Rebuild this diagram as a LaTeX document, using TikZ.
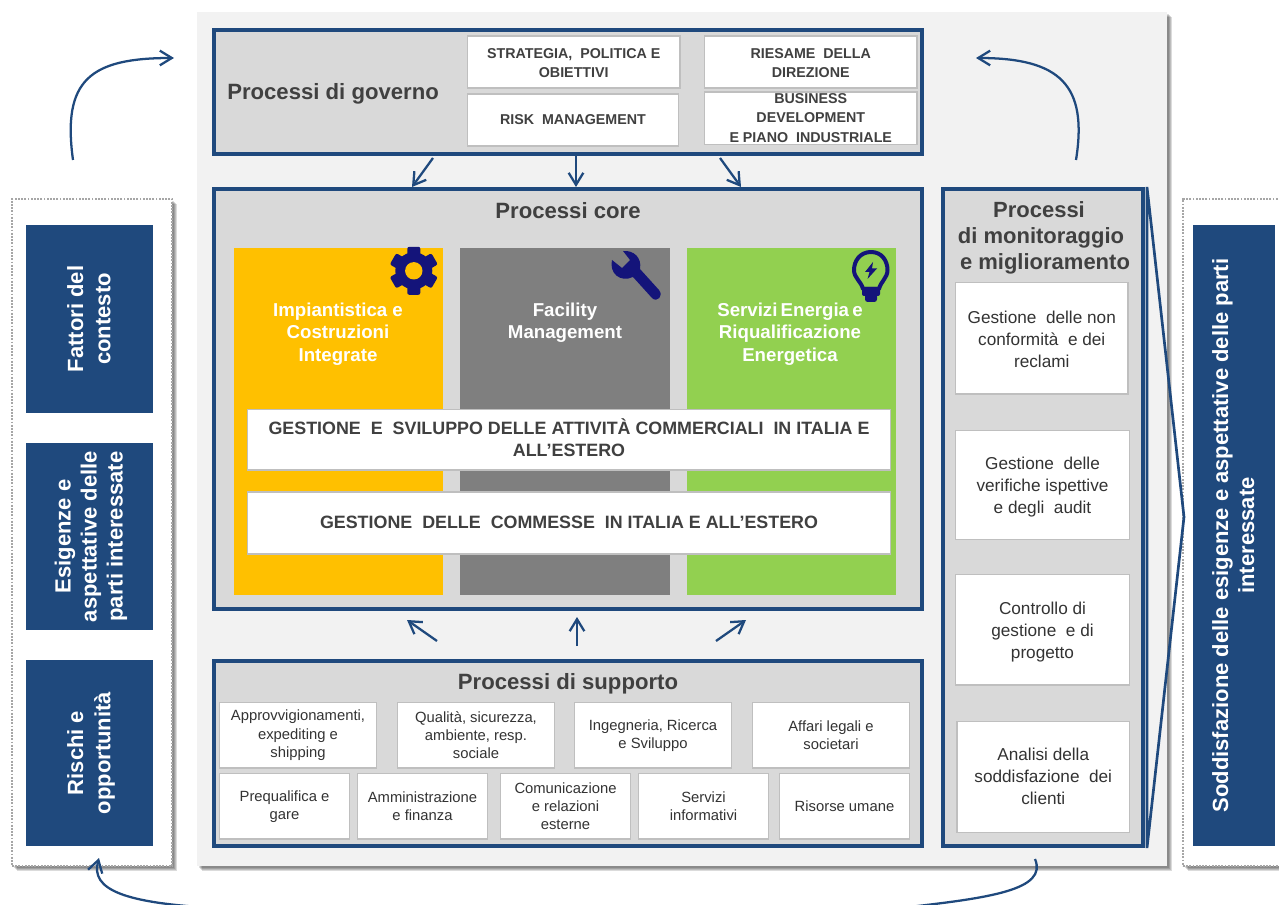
\documentclass[tikz,border=0pt]{standalone}
\usepackage{fontspec}
\setmainfont{Liberation Sans}
\usetikzlibrary{arrows.meta}
\definecolor{navyblue}{HTML}{1F497D}
\definecolor{icon}{HTML}{14147A}
\definecolor{panel}{HTML}{F2F2F2}
\definecolor{frameg}{HTML}{D9D9D9}
\definecolor{textg}{HTML}{404040}
\definecolor{edgeg}{HTML}{BFBFBF}
\definecolor{colyellow}{HTML}{FFC000}
\definecolor{colgrey}{HTML}{7F7F7F}
\definecolor{colgreen}{HTML}{92D050}
\newcommand{\fsz}[2]{\fontsize{#1}{#2}\selectfont}
\newcommand{\bx}[7]{\node[#2,inner sep=0pt,outer sep=0pt,minimum width={(#5-#3)*0.75pt},minimum height={(#6-#4)*0.75pt}] (#1) at ({(#3+#5)/2},{(#4+#6)/2}) {#7};}
\newcommand{\rot}[1]{\rotatebox{90}{\raisebox{-1.5pt}[\height][\depth]{\begin{tabular}{@{}c@{}}#1\end{tabular}}}}
\newcommand{\lift}[2]{\raisebox{#1}[\height][\depth]{\begin{tabular}{@{}c@{}}#2\end{tabular}}}
\tikzset{
 x=0.75pt,y=-0.75pt,
 panelbox/.style={fill=panel},
 dotbox/.style={fill=white,draw=black!35,line width=1.4pt,densely dotted},
 bluebox/.style={fill=navyblue,text=white,font=\bfseries\fsz{16.5}{19.5},align=center},
 frame/.style={fill=frameg,draw=navyblue,line width=3pt},
 whitebox/.style={fill=white,draw=edgeg,line width=0.9pt,text=black,align=center},
 govbox/.style={whitebox,font=\bfseries\fsz{10.7}{14.4},text=textg},
 supbox/.style={whitebox,font=\fsz{11.1}{13.6},text=textg!80!black},
 monbox/.style={whitebox,font=\fsz{12.9}{16.5},text=textg!80!black},
 bandbox/.style={whitebox,font=\bfseries\fsz{13.4}{17},text=textg},
 coltitle/.style={text=white,font=\bfseries\fsz{14}{16.7},align=center,inner sep=0pt},
 headtext/.style={text=textg,font=\bfseries\fsz{16.6}{20},align=center,inner sep=0pt},
 flow/.style={draw=navyblue,line width=1.7pt,-{Straight Barb[length=9pt,width=11pt,line width=1.7pt]}},
 shadowlayer/.style={fill=black,opacity=0.14},
}
\begin{document}
\begin{tikzpicture}
\clip (0,0) rectangle (1279,905);
\fill[white] (0,0) rectangle (1279,905);
% shadows
\foreach \d in {2,3,4,5}{
 \fill[shadowlayer] (197+\d,12+\d) rectangle (1167+\d,866+\d);
 \fill[shadowlayer] (12+\d,199+\d) rectangle (172+\d,866+\d);
 \fill[shadowlayer] (1183+\d,199+\d) rectangle (1300,866+\d);
}
\bx{main}{panelbox}{197}{12}{1167}{866}{}
\bx{leftdot}{dotbox}{12}{199}{172}{866}{}
\bx{rightdot}{dotbox}{1183}{199}{1300}{866}{}
% left column
\bx{fatt}{bluebox}{26}{225}{153}{413}{\rot{Fattori del\\[1pt]contesto}}
\bx{esig}{bluebox}{26}{443}{153}{630}{\rot{Esigenze e\\aspettative delle\\parti interessate}}
\bx{risc}{bluebox}{26}{660}{153}{846}{\rot{Rischi e\\[1pt]opportunità}}
\bx{sodd}{bluebox}{1193}{225}{1275}{846}{\rot{Soddisfazione delle esigenze e aspettative delle parti\\interessate}}
% governo
\bx{gov}{frame}{214}{30.5}{922}{154.5}{}
\node[headtext,anchor=west] (govt) at (227,93.5) {Processi di governo};
\bx{g1}{govbox}{467.5}{36}{680}{88}{\lift{-1.5pt}{STRATEGIA,\ \ POLITICA E\\OBIETTIVI}}
\bx{g2}{govbox}{704.5}{36}{917}{88}{\lift{-1.5pt}{RIESAME\ \ DELLA\\DIREZIONE}}
\bx{g3}{govbox}{467.5}{94}{678.5}{146}{\lift{-0.8pt}{RISK\ \ MANAGEMENT}}
\bx{g4}{govbox}{704.5}{92}{917}{144.5}{\smash{\lift{-3.4pt}{BUSINESS\\DEVELOPMENT\\E PIANO\ \ INDUSTRIALE}}}
% core
\bx{core}{frame}{214}{188.7}{922}{609}{}
\node[headtext] (coret) at (568,210.5) {Processi core};
\bx{c1}{fill=colyellow}{234}{248}{443}{595}{}
\bx{c2}{fill=colgrey}{460}{248}{670}{595}{}
\bx{c3}{fill=colgreen}{687}{248}{896}{595}{}
\node[coltitle] (c1t) at (338,334) {Impiantistica e\\Costruzioni\\Integrate};
\node[coltitle] (c2t) at (565,323) {Facility\\Management};
\node[coltitle] (c3t) at (790,334) {Servizi\kern-1.5pt\ Energia\kern-1.5pt\ e\\Riqualificazione\\Energetica};
\bx{b1}{bandbox}{247.5}{409.5}{890.5}{470}{\lift{-0.8pt}{GESTIONE\ \ E\ \ SVILUPPO DELLE ATTIVITÀ COMMERCIALI\ \ IN ITALIA E\\ALL’ESTERO}}
\bx{b2}{bandbox}{247.5}{492}{890.5}{554}{\lift{-0.8pt}{GESTIONE\ \ DELLE\ \ COMMESSE\ \ IN ITALIA E ALL’ESTERO}}
% gear
\begin{scope}[shift={(413.8,270.8)}]
 \foreach \a in {0,60,120,180,240,300}{
  \fill[icon,rounded corners=1.5pt,rotate=\a] (-6.5,-24) rectangle (6.5,0);}
 \fill[icon] (0,0) circle (18.5);
 \fill[colyellow] (0,0) circle (8.7);
\end{scope}
% wrench
\fill[icon] (623,251) .. controls (634,250) and (642,258) .. (640,269) -- (659,290) .. controls (664,296) and (657,303) .. (652,298) -- (633,277) .. controls (620,283) and (609,273) .. (612,260) -- (622,268) -- (630,260) -- cycle;
% bulb
\draw[icon,line width=3pt,line join=round] (871,252) .. controls (882,252) and (887.5,261) .. (887.5,270) .. controls (887.5,278) and (881,281) .. (879,289) -- (863,289) .. controls (861,281) and (854,278) .. (854,270) .. controls (854,261) and (860,252) .. (871,252) -- cycle;
\fill[icon,rounded corners=1.5pt] (862,287) rectangle (880,296);
\fill[icon,rounded corners=2pt] (865,292) rectangle (877,302);
\fill[icon] (873,262) -- (865,272) -- (869.5,272) -- (867.5,279) -- (877,268.5) -- (872,268.5) -- cycle;
% supporto
\bx{sup}{frame}{214}{661}{922}{846}{}
\node[headtext] (supt) at (568,683.5) {Processi di supporto};
\bx{s1}{supbox}{219.5}{702.5}{376.5}{768}{Approvvigionamenti,\\expediting e\\shipping}
\bx{s2}{supbox}{397.5}{702.5}{554.5}{768}{Qualità, sicurezza,\\ambiente, resp.\\sociale}
\bx{s3}{supbox}{574.5}{702.5}{731.5}{768}{Ingegneria, Ricerca\\e Sviluppo}
\bx{s4}{supbox}{752.5}{702.5}{909.5}{768}{Affari legali e\\societari}
\bx{s5}{supbox}{219.5}{773.5}{349.5}{839}{Prequalifica e\\gare}
\bx{s6}{supbox}{357.5}{773.5}{487.5}{839}{Amministrazione\\e finanza}
\bx{s7}{supbox}{500.5}{773.5}{630.5}{839}{Comunicazione\\e relazioni\\esterne}
\bx{s8}{supbox}{638.5}{773.5}{768.5}{839}{Servizi\\informativi}
\bx{s9}{supbox}{779.5}{773.5}{909.5}{839}{Risorse umane}
% monitoraggio
\bx{mon}{frame}{943}{188.7}{1142.5}{846}{}
\node[headtext,font=\bfseries\fsz{16.5}{19.5}] (mont) at (1041,238) {Processi\kern3pt\\di monitoraggio\\\kern6pt e miglioramento};
\bx{m1}{monbox}{955.5}{282.5}{1128}{394}{\lift{-1.9pt}{Gestione\ \ delle non\\conformità\ \ e dei\\reclami}}
\bx{m2}{monbox}{955.5}{430.5}{1129.5}{539.5}{\lift{-1.5pt}{Gestione\ \ delle\\verifiche ispettive\\e degli\ \ audit}}
\bx{m3}{monbox}{955.5}{574.5}{1129.5}{685}{\lift{-1.5pt}{Controllo di\\gestione\ \ e di\\progetto}}
\bx{m4}{monbox}{957}{721.5}{1129.5}{832.5}{\lift{-0.75pt}{Analisi della\\soddisfazione\ \ dei\\clienti}}
% chevron
\coordinate (chA) at (1147,187);
\coordinate (chB) at (1184,517);
\coordinate (chC) at (1147,848);
\draw[navyblue,line width=2pt,line join=miter] (chA) -- (chB) -- (chC) -- cycle;
% arrows gov to core
\coordinate (a1s) at (433,158); \coordinate (a1e) at (412,187);
\coordinate (a2s) at (576,156); \coordinate (a2e) at (576,187);
\coordinate (a3s) at (720,158); \coordinate (a3e) at (741,187);
\draw[flow] (a1s) -- (a1e);
\draw[flow] (a2s) -- (a2e);
\draw[flow] (a3s) -- (a3e);
\coordinate (a4s) at (437,641); \coordinate (a4e) at (407,620);
\coordinate (a5s) at (577,646); \coordinate (a5e) at (577,617);
\coordinate (a6s) at (716,641); \coordinate (a6e) at (746,620);
\draw[flow] (a4s) -- (a4e);
\draw[flow] (a5s) -- (a5e);
\draw[flow] (a6s) -- (a6e);
% curved
\coordinate (l1) at (73,160); \coordinate (l2) at (174,58);
\coordinate (r1) at (1076,160); \coordinate (r2) at (976,58);
\coordinate (b1s) at (1035,859); \coordinate (b1e) at (99,858);
\draw[flow] (l1) .. controls (62,80) and (90,58) .. (l2);
\draw[flow] (r1) .. controls (1088,85) and (1060,58) .. (r2);
\draw[flow] (b1s) .. controls (1048,890) and (990,898) .. (900,908) -- (215,908) .. controls (125,903) and (90,890) .. (b1e);
\end{tikzpicture}
\end{document}
